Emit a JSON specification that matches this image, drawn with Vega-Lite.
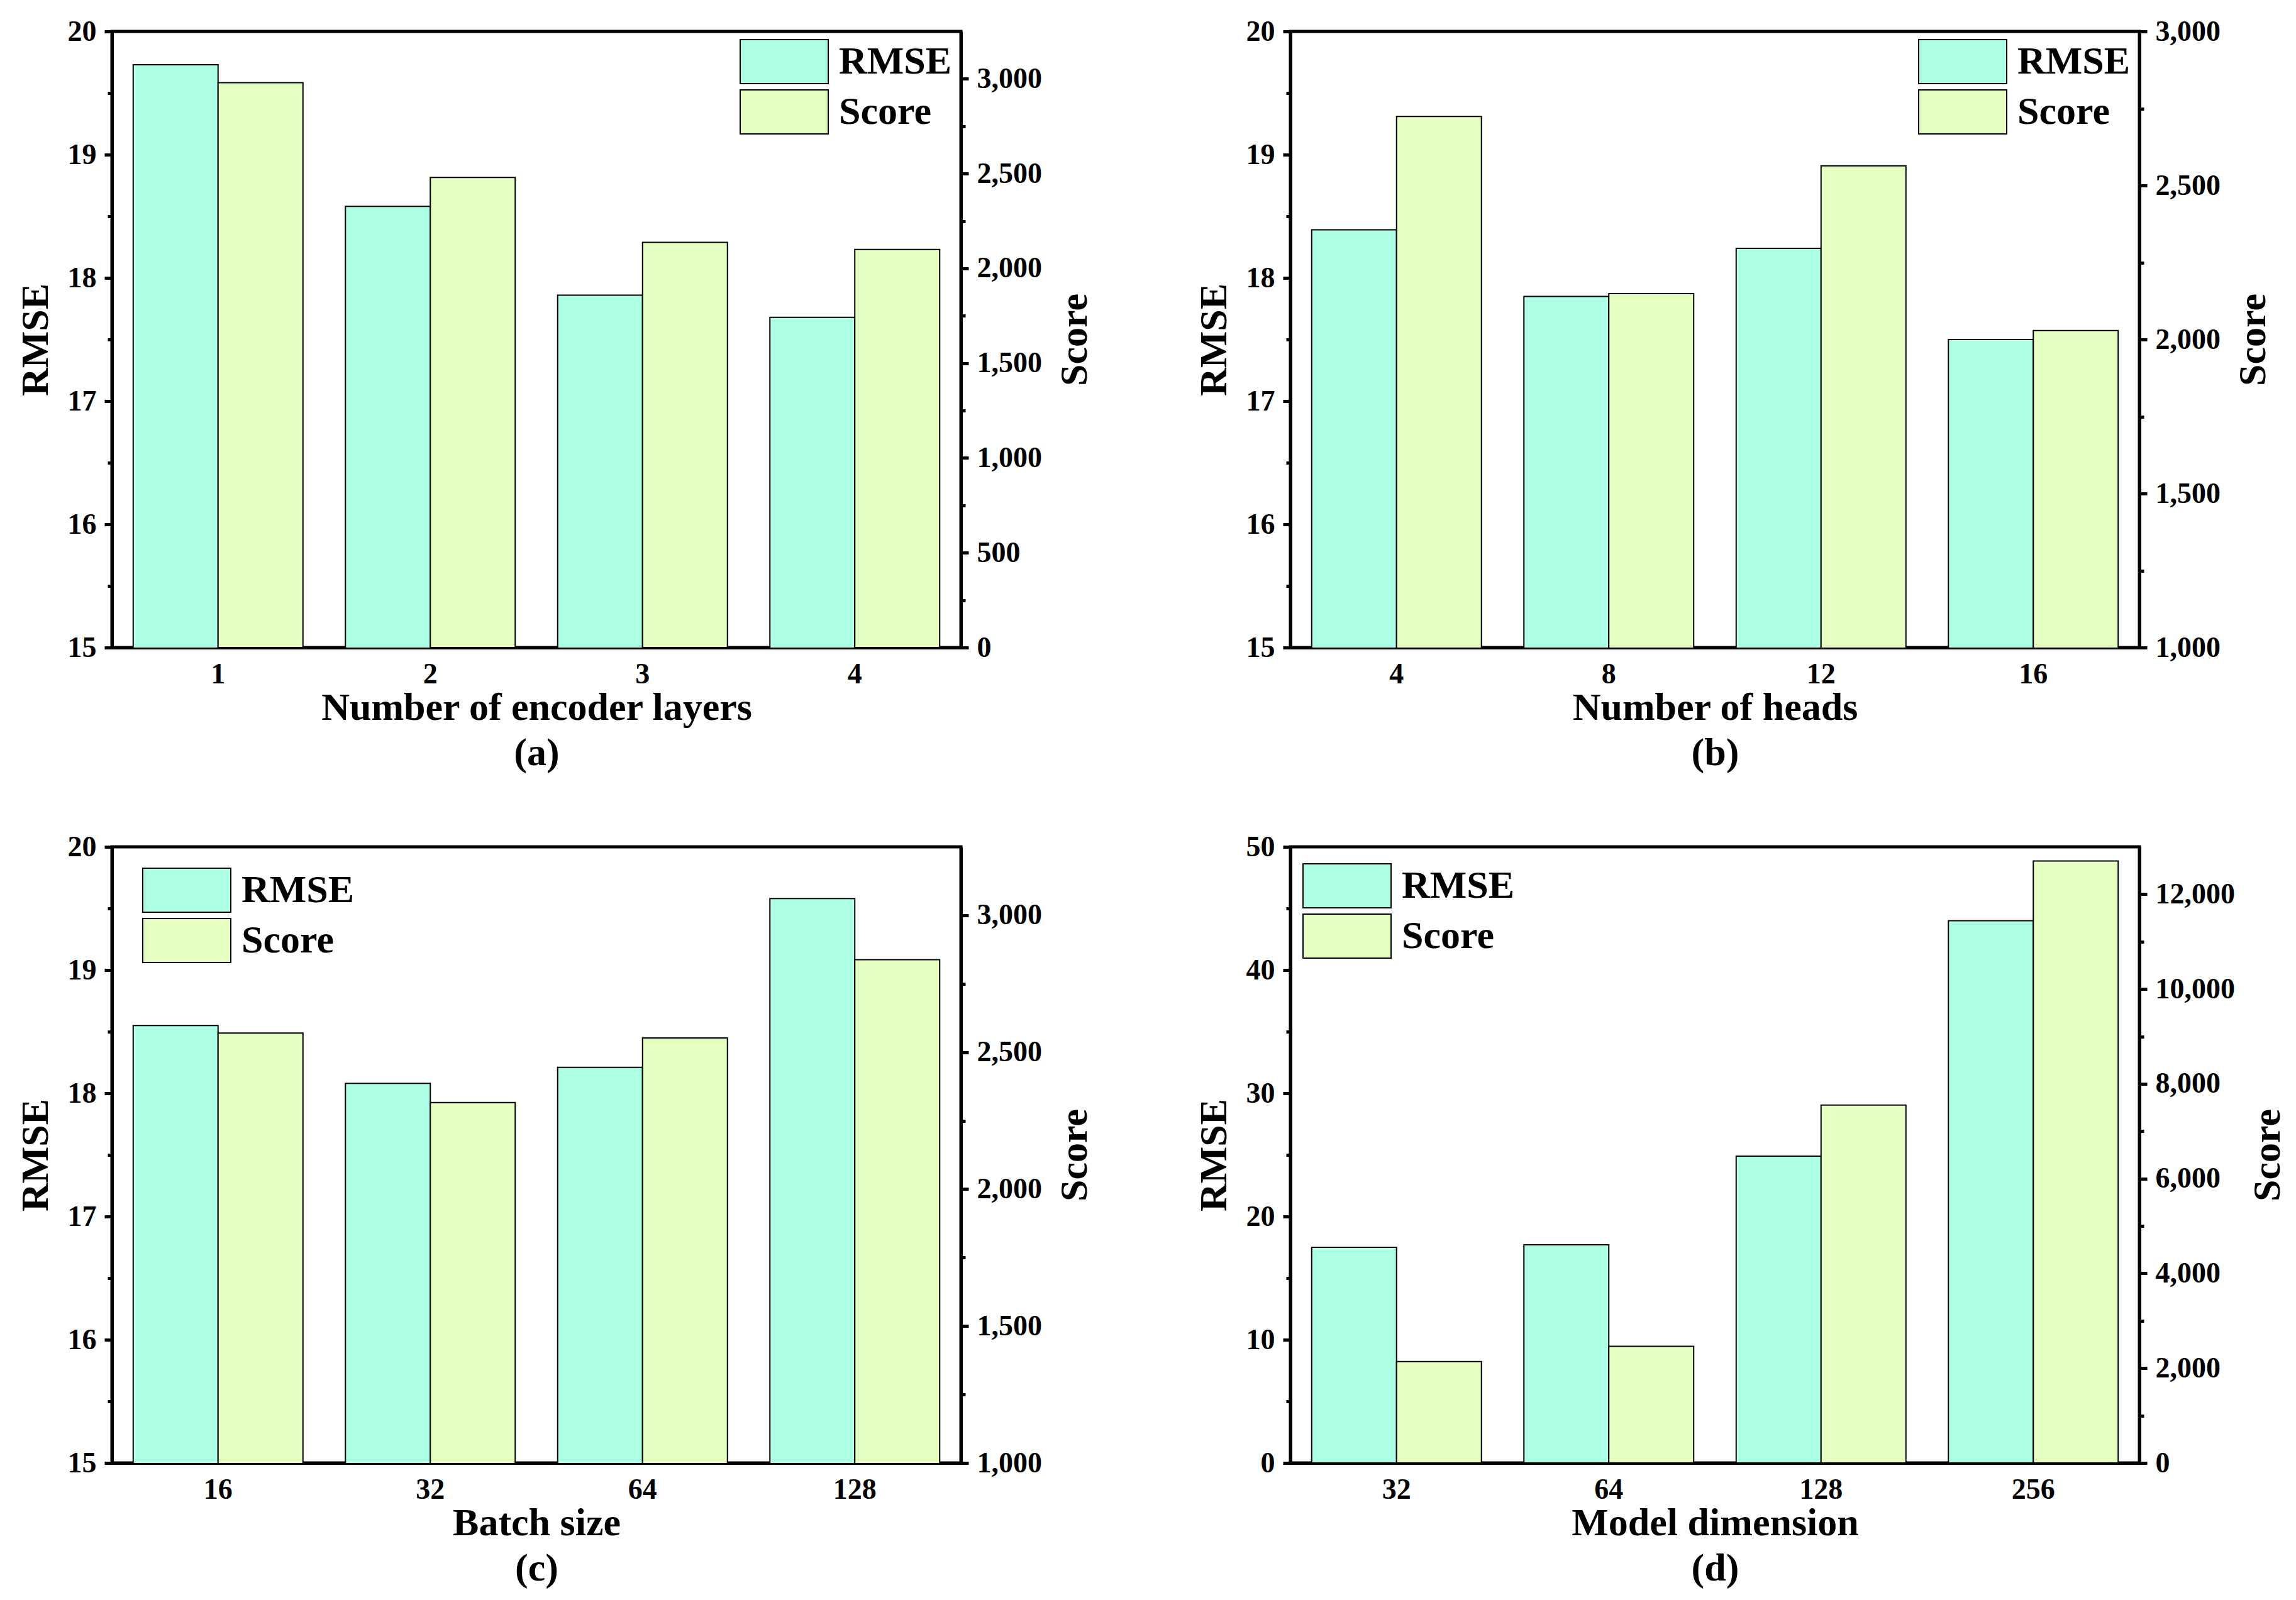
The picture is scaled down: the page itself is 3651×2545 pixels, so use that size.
{
  "$schema": "https://vega.github.io/schema/vega-lite/v6.json",
  "background": "white",
  "padding": {"left": 22, "top": 24, "right": 4, "bottom": 4},
  "config": {
    "font": "Liberation Serif",
    "view": {"stroke": "black", "strokeWidth": 5},
    "axis": {
      "labelFont": "Liberation Serif", "labelFontWeight": "bold", "labelFontSize": 46, "labelColor": "black",
      "titleFont": "Liberation Serif", "titleFontWeight": "bold", "titleFontSize": 62, "titleColor": "black",
      "domainColor": "black", "domainWidth": 5, "tickColor": "black", "tickWidth": 5, "grid": false
    },
    "legend": {
      "orient": "none", "title": null, "padding": 0,
      "labelFont": "Liberation Serif", "labelFontWeight": "bold", "labelFontSize": 62, "labelColor": "black", "labelLimit": 600,
      "symbolType": "M-2,-1H2V1H-2Z", "symbolSize": 4900, "symbolStrokeColor": "black", "symbolStrokeWidth": 2.5,
      "symbolOpacity": 1, "labelOffset": 51, "rowPadding": 2
    },
    "bar": {"stroke": "black", "strokeWidth": 2}
  },
  "datasets": {
    "vals": [
      {"panel": "a", "cat": "1", "series": "RMSE", "value": 19.73},
      {"panel": "a", "cat": "2", "series": "RMSE", "value": 18.58},
      {"panel": "a", "cat": "3", "series": "RMSE", "value": 17.86},
      {"panel": "a", "cat": "4", "series": "RMSE", "value": 17.68},
      {"panel": "a", "cat": "1", "series": "Score", "value": 2980},
      {"panel": "a", "cat": "2", "series": "Score", "value": 2480},
      {"panel": "a", "cat": "3", "series": "Score", "value": 2137},
      {"panel": "a", "cat": "4", "series": "Score", "value": 2100},
      {"panel": "b", "cat": "4", "series": "RMSE", "value": 18.39},
      {"panel": "b", "cat": "8", "series": "RMSE", "value": 17.85},
      {"panel": "b", "cat": "12", "series": "RMSE", "value": 18.24},
      {"panel": "b", "cat": "16", "series": "RMSE", "value": 17.50},
      {"panel": "b", "cat": "4", "series": "Score", "value": 2724},
      {"panel": "b", "cat": "8", "series": "Score", "value": 2149},
      {"panel": "b", "cat": "12", "series": "Score", "value": 2564},
      {"panel": "b", "cat": "16", "series": "Score", "value": 2029},
      {"panel": "c", "cat": "16", "series": "RMSE", "value": 18.55},
      {"panel": "c", "cat": "32", "series": "RMSE", "value": 18.08},
      {"panel": "c", "cat": "64", "series": "RMSE", "value": 18.21},
      {"panel": "c", "cat": "128", "series": "RMSE", "value": 19.58},
      {"panel": "c", "cat": "16", "series": "Score", "value": 2570},
      {"panel": "c", "cat": "32", "series": "Score", "value": 2316},
      {"panel": "c", "cat": "64", "series": "Score", "value": 2552},
      {"panel": "c", "cat": "128", "series": "Score", "value": 2838},
      {"panel": "d", "cat": "32", "series": "RMSE", "value": 17.5},
      {"panel": "d", "cat": "64", "series": "RMSE", "value": 17.7},
      {"panel": "d", "cat": "128", "series": "RMSE", "value": 24.9},
      {"panel": "d", "cat": "256", "series": "RMSE", "value": 44.0},
      {"panel": "d", "cat": "32", "series": "Score", "value": 2140},
      {"panel": "d", "cat": "64", "series": "Score", "value": 2460},
      {"panel": "d", "cat": "128", "series": "Score", "value": 7550},
      {"panel": "d", "cat": "256", "series": "Score", "value": 12700}
    ]
  },
  "spacing": 90,
  "resolve": {"scale": {"color": "independent"}, "legend": {"color": "independent"}},
  "vconcat": [
    {
      "spacing": 154,
      "resolve": {"scale": {"color": "independent"}, "legend": {"color": "independent"}},
      "hconcat": [
        {
          "width": 1350, "height": 980,
          "data": {"name": "vals"},
          "transform": [{"filter": "datum.panel === 'a'"}],
          "encoding": {
            "x": {"field": "cat", "type": "nominal", "sort": ["1", "2", "3", "4"],
                  "scale": {"paddingInner": 0.2, "paddingOuter": 0.1},
                  "axis": {"title": ["Number of encoder layers", "(a)"], "labelAngle": 0, "ticks": false, "labelPadding": 20, "titlePadding": 0, "titleLineHeight": 72}},
            "xOffset": {"field": "series", "scale": {"domain": ["RMSE", "Score"], "paddingInner": 0, "paddingOuter": 0}},
            "color": {"field": "series", "type": "nominal", "scale": {"domain": ["RMSE", "Score"], "range": ["#ADFFE6", "#E5FFC3"]},
                      "legend": {"legendX": 1033, "legendY": 12}}
          },
          "layer": [
            {
              "transform": [{"filter": "datum.series === 'RMSE'"}],
              "mark": {"type": "bar", "clip": true},
              "encoding": {"y": {"field": "value", "type": "quantitative",
                "scale": {"domain": [15, 20], "zero": false, "nice": false},
                "axis": {"title": "RMSE", "orient": "left", "values": [15, 15.5, 16, 16.5, 17, 17.5, 18, 18.5, 19, 19.5, 20],
                  "labelExpr": "datum.value % 1 === 0 ? format(datum.value, 'd') : ''",
                  "tickSize": {"condition": {"test": "datum.value % 1 === 0", "value": 12}, "value": 7},
                  "labelPadding": 13, "titlePadding": 19}}}
            },
            {
              "transform": [{"filter": "datum.series === 'Score'"}],
              "mark": {"type": "bar", "clip": true},
              "encoding": {"y": {"field": "value", "type": "quantitative",
                "scale": {"domain": [0, 3250], "zero": false, "nice": false},
                "axis": {"title": "Score", "orient": "right", "values": [0, 250, 500, 750, 1000, 1250, 1500, 1750, 2000, 2250, 2500, 2750, 3000],
                  "labelExpr": "datum.value % 500 === 0 ? format(datum.value, ',') : ''",
                  "tickSize": {"condition": {"test": "datum.value % 500 === 0", "value": 12}, "value": 7},
                  "labelPadding": 13, "titlePadding": 22, "titleAngle": -90, "titleBaseline": "top"}}}
            }
          ],
          "resolve": {"scale": {"y": "independent"}}
        },
        {
          "width": 1350, "height": 980,
          "data": {"name": "vals"},
          "transform": [{"filter": "datum.panel === 'b'"}],
          "encoding": {
            "x": {"field": "cat", "type": "nominal", "sort": ["4", "8", "12", "16"],
                  "scale": {"paddingInner": 0.2, "paddingOuter": 0.1},
                  "axis": {"title": ["Number of heads", "(b)"], "labelAngle": 0, "ticks": false, "labelPadding": 20, "titlePadding": 0, "titleLineHeight": 72}},
            "xOffset": {"field": "series", "scale": {"domain": ["RMSE", "Score"], "paddingInner": 0, "paddingOuter": 0}},
            "color": {"field": "series", "type": "nominal", "scale": {"domain": ["RMSE", "Score"], "range": ["#ADFFE6", "#E5FFC3"]},
                      "legend": {"legendX": 1033, "legendY": 12}}
          },
          "layer": [
            {
              "transform": [{"filter": "datum.series === 'RMSE'"}],
              "mark": {"type": "bar", "clip": true},
              "encoding": {"y": {"field": "value", "type": "quantitative",
                "scale": {"domain": [15, 20], "zero": false, "nice": false},
                "axis": {"title": "RMSE", "orient": "left", "values": [15, 15.5, 16, 16.5, 17, 17.5, 18, 18.5, 19, 19.5, 20],
                  "labelExpr": "datum.value % 1 === 0 ? format(datum.value, 'd') : ''",
                  "tickSize": {"condition": {"test": "datum.value % 1 === 0", "value": 12}, "value": 7},
                  "labelPadding": 13, "titlePadding": 19}}}
            },
            {
              "transform": [{"filter": "datum.series === 'Score'"}],
              "mark": {"type": "bar", "clip": true},
              "encoding": {"y": {"field": "value", "type": "quantitative",
                "scale": {"domain": [1000, 3000], "zero": false, "nice": false},
                "axis": {"title": "Score", "orient": "right", "values": [1000, 1250, 1500, 1750, 2000, 2250, 2500, 2750, 3000],
                  "labelExpr": "datum.value % 500 === 0 ? format(datum.value, ',') : ''",
                  "tickSize": {"condition": {"test": "datum.value % 500 === 0", "value": 12}, "value": 7},
                  "labelPadding": 13, "titlePadding": 22, "titleAngle": -90, "titleBaseline": "top"}}}
            }
          ],
          "resolve": {"scale": {"y": "independent"}}
        }
      ]
    },
    {
      "spacing": 154,
      "resolve": {"scale": {"color": "independent"}, "legend": {"color": "independent"}},
      "hconcat": [
        {
          "width": 1350, "height": 980,
          "data": {"name": "vals"},
          "transform": [{"filter": "datum.panel === 'c'"}],
          "encoding": {
            "x": {"field": "cat", "type": "nominal", "sort": ["16", "32", "64", "128"],
                  "scale": {"paddingInner": 0.2, "paddingOuter": 0.1},
                  "axis": {"title": ["Batch size", "(c)"], "labelAngle": 0, "ticks": false, "labelPadding": 20, "titlePadding": 0, "titleLineHeight": 72}},
            "xOffset": {"field": "series", "scale": {"domain": ["RMSE", "Score"], "paddingInner": 0, "paddingOuter": 0}},
            "color": {"field": "series", "type": "nominal", "scale": {"domain": ["RMSE", "Score"], "range": ["#ADFFE6", "#E5FFC3"]},
                      "legend": {"legendX": 83, "legendY": 33}}
          },
          "layer": [
            {
              "transform": [{"filter": "datum.series === 'RMSE'"}],
              "mark": {"type": "bar", "clip": true},
              "encoding": {"y": {"field": "value", "type": "quantitative",
                "scale": {"domain": [15, 20], "zero": false, "nice": false},
                "axis": {"title": "RMSE", "orient": "left", "values": [15, 15.5, 16, 16.5, 17, 17.5, 18, 18.5, 19, 19.5, 20],
                  "labelExpr": "datum.value % 1 === 0 ? format(datum.value, 'd') : ''",
                  "tickSize": {"condition": {"test": "datum.value % 1 === 0", "value": 12}, "value": 7},
                  "labelPadding": 13, "titlePadding": 19}}}
            },
            {
              "transform": [{"filter": "datum.series === 'Score'"}],
              "mark": {"type": "bar", "clip": true},
              "encoding": {"y": {"field": "value", "type": "quantitative",
                "scale": {"domain": [1000, 3250], "zero": false, "nice": false},
                "axis": {"title": "Score", "orient": "right", "values": [1000, 1250, 1500, 1750, 2000, 2250, 2500, 2750, 3000],
                  "labelExpr": "datum.value % 500 === 0 ? format(datum.value, ',') : ''",
                  "tickSize": {"condition": {"test": "datum.value % 500 === 0", "value": 12}, "value": 7},
                  "labelPadding": 13, "titlePadding": 22, "titleAngle": -90, "titleBaseline": "top"}}}
            }
          ],
          "resolve": {"scale": {"y": "independent"}}
        },
        {
          "width": 1350, "height": 980,
          "data": {"name": "vals"},
          "transform": [{"filter": "datum.panel === 'd'"}],
          "encoding": {
            "x": {"field": "cat", "type": "nominal", "sort": ["32", "64", "128", "256"],
                  "scale": {"paddingInner": 0.2, "paddingOuter": 0.1},
                  "axis": {"title": ["Model dimension", "(d)"], "labelAngle": 0, "ticks": false, "labelPadding": 20, "titlePadding": 0, "titleLineHeight": 72}},
            "xOffset": {"field": "series", "scale": {"domain": ["RMSE", "Score"], "paddingInner": 0, "paddingOuter": 0}},
            "color": {"field": "series", "type": "nominal", "scale": {"domain": ["RMSE", "Score"], "range": ["#ADFFE6", "#E5FFC3"]},
                      "legend": {"legendX": 54, "legendY": 26}}
          },
          "layer": [
            {
              "transform": [{"filter": "datum.series === 'RMSE'"}],
              "mark": {"type": "bar", "clip": true},
              "encoding": {"y": {"field": "value", "type": "quantitative",
                "scale": {"domain": [0, 50], "zero": false, "nice": false},
                "axis": {"title": "RMSE", "orient": "left", "values": [0, 5, 10, 15, 20, 25, 30, 35, 40, 45, 50],
                  "labelExpr": "datum.value % 10 === 0 ? format(datum.value, 'd') : ''",
                  "tickSize": {"condition": {"test": "datum.value % 10 === 0", "value": 12}, "value": 7},
                  "labelPadding": 13, "titlePadding": 19}}}
            },
            {
              "transform": [{"filter": "datum.series === 'Score'"}],
              "mark": {"type": "bar", "clip": true},
              "encoding": {"y": {"field": "value", "type": "quantitative",
                "scale": {"domain": [0, 13000], "zero": false, "nice": false},
                "axis": {"title": "Score", "orient": "right", "values": [0, 1000, 2000, 3000, 4000, 5000, 6000, 7000, 8000, 9000, 10000, 11000, 12000],
                  "labelExpr": "datum.value % 2000 === 0 ? format(datum.value, ',') : ''",
                  "tickSize": {"condition": {"test": "datum.value % 2000 === 0", "value": 12}, "value": 7},
                  "labelPadding": 13, "titlePadding": 22, "titleAngle": -90, "titleBaseline": "top"}}}
            }
          ],
          "resolve": {"scale": {"y": "independent"}}
        }
      ]
    }
  ]
}
